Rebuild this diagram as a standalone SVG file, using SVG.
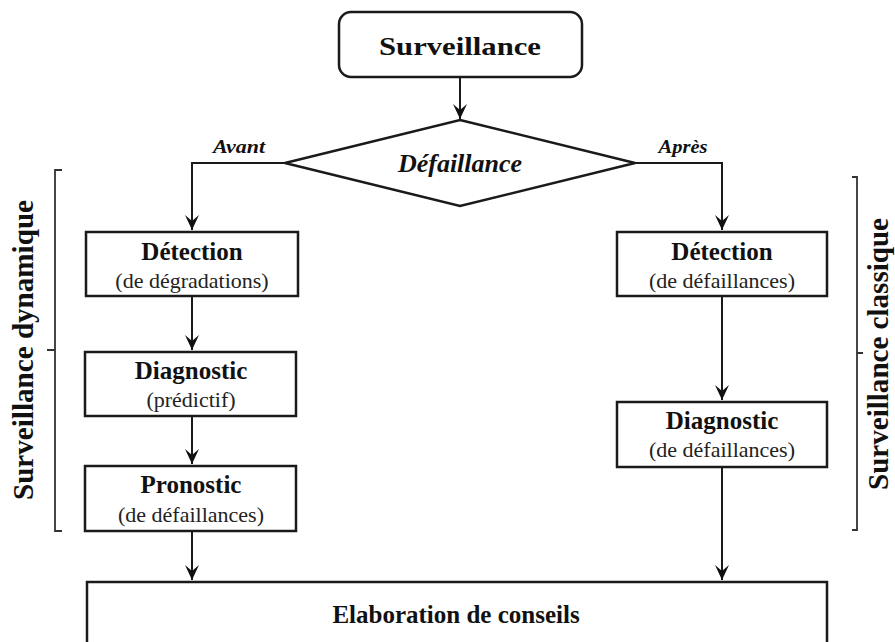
<svg xmlns="http://www.w3.org/2000/svg" width="895" height="642" viewBox="0 0 895 642">
<style>
  text { font-family: "Liberation Serif", "Times New Roman", serif; fill: #111; }
  .t { font-weight: bold; font-size: 25px; text-anchor: middle; }
  .s { font-size: 22px; text-anchor: middle; fill: #222; }
  .box { fill: #fff; stroke: #1a1a1a; stroke-width: 2.5; }
  .ln { fill: none; stroke: #1a1a1a; stroke-width: 2; }
  .br { fill: none; stroke: #333; stroke-width: 1.8; }
  .bi { font-weight: bold; font-style: italic; text-anchor: middle; }
  .side { font-weight: bold; font-size: 29px; text-anchor: middle; }
</style>
<defs>
  <marker id="arr" viewBox="-16 -8 17 16" markerWidth="17" markerHeight="16" refX="0" refY="0" orient="auto" markerUnits="userSpaceOnUse">
    <path d="M0,0 L-15,-7 L-9,0 L-15,7 Z" fill="#111"/>
  </marker>
</defs>
<rect width="895" height="642" fill="#fff"/>

<g id="connectors">
  <line class="ln" x1="460" y1="77" x2="460" y2="119" marker-end="url(#arr)"/>
  <polyline class="ln" points="285,163 192,163 192,230" marker-end="url(#arr)"/>
  <polyline class="ln" points="635,163 722,163 722,230" marker-end="url(#arr)"/>
  <line class="ln" x1="192" y1="296" x2="192" y2="350" marker-end="url(#arr)"/>
  <line class="ln" x1="192" y1="416" x2="192" y2="464" marker-end="url(#arr)"/>
  <line class="ln" x1="192" y1="531" x2="192" y2="580" marker-end="url(#arr)"/>
  <line class="ln" x1="722" y1="296" x2="722" y2="400" marker-end="url(#arr)"/>
  <line class="ln" x1="722" y1="467" x2="722" y2="580" marker-end="url(#arr)"/>
  <text class="bi" x="239" y="153" font-size="18" textLength="52" lengthAdjust="spacingAndGlyphs">Avant</text>
  <text class="bi" x="683" y="153" font-size="18" textLength="49" lengthAdjust="spacingAndGlyphs">Après</text>
</g>

<g id="surveillance">
  <rect class="box" x="339" y="12" width="243" height="65" rx="12" ry="12" stroke-width="2"/>
  <text class="t" x="460" y="55" font-size="30" textLength="162" lengthAdjust="spacingAndGlyphs">Surveillance</text>
</g>

<g id="defaillance">
  <polygon class="box" points="460,120 635,163 460,206 285,163" stroke-width="2"/>
  <text class="bi" x="460" y="172" font-size="26">Défaillance</text>
</g>

<g id="detection-gauche">
  <rect class="box" x="86" y="232" width="212" height="64"/>
  <text class="t" x="192" y="260">Détection</text>
  <text class="s" x="192" y="288">(de dégradations)</text>
</g>

<g id="diagnostic-gauche">
  <rect class="box" x="85" y="352" width="211" height="64"/>
  <text class="t" x="191" y="379">Diagnostic</text>
  <text class="s" x="191" y="407">(prédictif)</text>
</g>

<g id="pronostic">
  <rect class="box" x="85" y="466" width="211" height="65"/>
  <text class="t" x="191" y="493">Pronostic</text>
  <text class="s" x="191" y="522">(de défaillances)</text>
</g>

<g id="detection-droite">
  <rect class="box" x="617" y="232" width="210" height="64"/>
  <text class="t" x="722" y="260">Détection</text>
  <text class="s" x="722" y="288">(de défaillances)</text>
</g>

<g id="diagnostic-droite">
  <rect class="box" x="617" y="402" width="210" height="65"/>
  <text class="t" x="722" y="429">Diagnostic</text>
  <text class="s" x="722" y="457">(de défaillances)</text>
</g>

<g id="elaboration">
  <rect class="box" x="87" y="582" width="740" height="80"/>
  <text class="t" x="456" y="623" font-size="26">Elaboration de conseils</text>
</g>

<g id="surveillance-dynamique">
  <path class="br" d="M62,170 L55,170 L55,531 L62,531 M55,350 L47,350"/>
  <text class="side" transform="translate(33,350) rotate(-90)" x="0" y="0" textLength="300" lengthAdjust="spacingAndGlyphs">Surveillance dynamique</text>
</g>

<g id="surveillance-classique">
  <path class="br" d="M852,177 L857,177 L857,530 L852,530 M857,353 L863,353"/>
  <text class="side" transform="translate(888,354) rotate(-90)" x="0" y="0" textLength="272" lengthAdjust="spacingAndGlyphs">Surveillance classique</text>
</g>
</svg>
